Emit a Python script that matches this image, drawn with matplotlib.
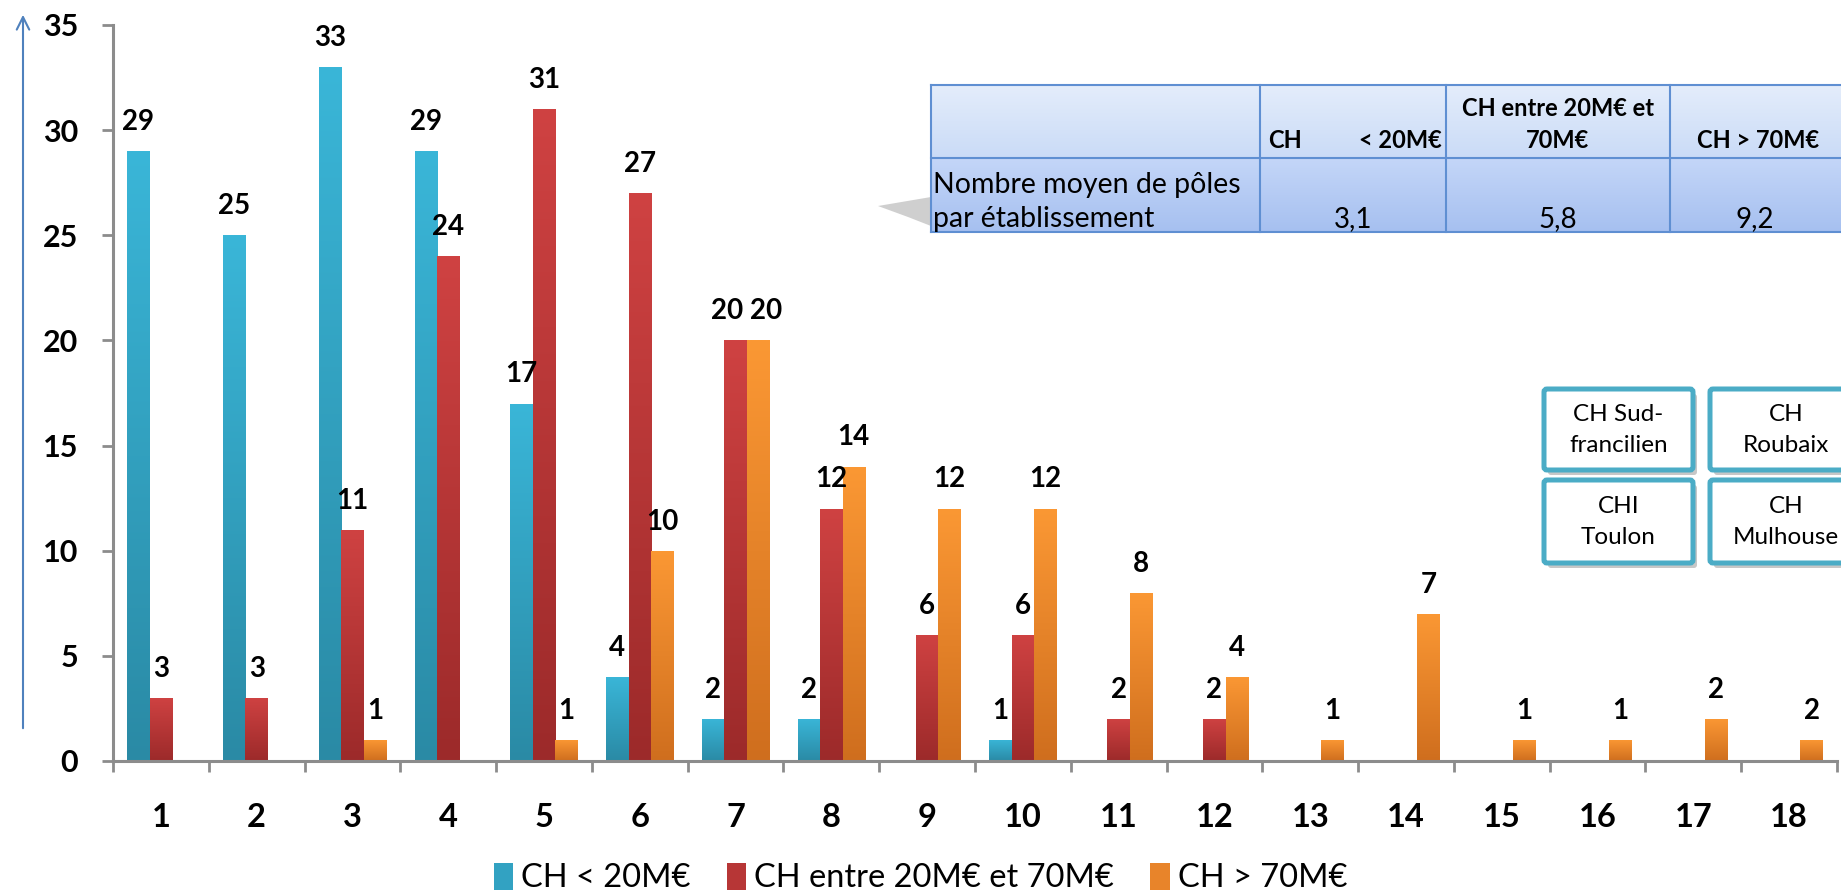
import numpy as np
import matplotlib
matplotlib.use("Agg")
import matplotlib.pyplot as plt
from matplotlib.colors import LinearSegmentedColormap
from matplotlib.patches import Patch, FancyBboxPatch, Polygon

plt.rcParams['font.family'] = ['Lato', 'DejaVu Sans']

# ---------------- data ----------------
categories = [str(i) for i in range(1, 19)]
series_names = ["CH < 20M\u20ac", "CH entre 20M\u20ac et 70M\u20ac", "CH > 70M\u20ac"]
small = [29, 25, 33, 29, 17, 4, 2, 2, 0, 1, 0, 0, 0, 0, 0, 0, 0, 0]
medium = [3, 3, 11, 24, 31, 27, 20, 12, 6, 6, 2, 2, 0, 0, 0, 0, 0, 0]
large = [0, 0, 1, 0, 1, 10, 20, 14, 12, 12, 8, 4, 1, 7, 1, 1, 2, 1]
large_labels = ["", "", "1", "", "1", "10", "20", "14", "12", "12", "8", "4", "1", "7", "1", "1", "2", "2"]
yticks = [0, 5, 10, 15, 20, 25, 30, 35]

table_cols = ["CH        < 20M\u20ac", "CH entre 20M\u20ac et\n70M\u20ac", "CH > 70M\u20ac"]
table_row_label = "Nombre moyen de p\u00f4les\npar \u00e9tablissement"
table_values = ["3,1", "5,8", "9,2"]
box_labels = [["CH Sud-\nfrancilien", "CH\nRoubaix"], ["CHI\nToulon", "CH\nMulhouse"]]

# ---------------- style ----------------
W, H = 1841, 893
fig = plt.figure(figsize=(W / 100, H / 100), dpi=100)
ax = fig.add_axes([113 / W, 1 - 761 / H, (1837 - 113) / W, (761 - 25) / H])

colors_top = ["#3AB6D8", "#CF4242", "#FB9834"]
colors_bot = ["#2A8AA5", "#9C2A2A", "#CF6E1E"]
colors_mid = ["#32A2C2", "#B73636", "#E8842A"]
grad = np.linspace(0, 1, 256).reshape(-1, 1)

x = np.arange(1, len(categories) + 1)
bw = 0.234
offsets = [-bw, 0, bw]
all_series = [small, medium, large]
all_labels = [[str(v) if v else "" for v in small],
              [str(v) if v else "" for v in medium],
              large_labels]

for s, (vals, labs) in enumerate(zip(all_series, all_labels)):
    cmap = LinearSegmentedColormap.from_list(f"g{s}", [colors_bot[s], colors_top[s]])
    bars = ax.bar(x + offsets[s], vals, bw, color=colors_mid[s], edgecolor='none', zorder=2)
    for i, (b, v, lab) in enumerate(zip(bars, vals, labs)):
        if v <= 0:
            continue
        x0 = b.get_x()
        im = ax.imshow(grad, extent=[x0, x0 + bw, 0, v], origin='lower', aspect='auto',
                       cmap=cmap, zorder=3)
        im.set_clip_path(b)
        if lab:
            dx = 0
            if s > 0 and all_labels[s - 1][i] and abs(all_series[s - 1][i] - v) < 2:
                dx = 6
            if s < 2 and all_labels[s + 1][i] and abs(all_series[s + 1][i] - v) < 2:
                dx = -6
            ax.annotate(lab, (x0 + bw / 2, v), xytext=(dx, 21), textcoords='offset points',
                        ha='center', va='center', fontsize=20, fontweight='bold', color='black',
                        zorder=5, annotation_clip=False)

ax.set_xlim(0.5, len(categories) + 0.5)
ax.set_ylim(0, 35)
ax.set_yticks(yticks)
ax.set_yticklabels([str(t) for t in yticks], fontsize=22, fontweight='bold')
ax.set_xticks(x)
ax.set_xticklabels(categories, fontsize=23.5, fontweight='bold')
ax.set_xticks(np.arange(0.5, len(categories) + 1, 1), minor=True)
ax.tick_params(axis='x', which='major', length=0, pad=30)
ax.tick_params(axis='x', which='minor', length=8, width=2, color='#8C8C8C', direction='out')
ax.tick_params(axis='y', which='major', length=8, width=2, color='#8C8C8C', pad=17, direction='out')
for sp in ['top', 'right']:
    ax.spines[sp].set_visible(False)
for sp in ['left', 'bottom']:
    ax.spines[sp].set_color('#8C8C8C')
    ax.spines[sp].set_linewidth(2.2)
ax.spines['bottom'].set_zorder(4)

handles = [Patch(facecolor=c, edgecolor='none') for c in colors_mid]
fig.legend(handles, series_names, loc='center', bbox_to_anchor=(0.5, 15 / H), ncol=3,
           frameon=False, fontsize=23.5, handlelength=0.6, handleheight=0.9, handletextpad=0.25,
           columnspacing=1.1)

# ---------------- overlay (pixel coordinates) ----------------
ov = fig.add_axes([0, 0, 1, 1], zorder=10)
ov.set_xlim(0, W)
ov.set_ylim(H, 0)
ov.axis('off')
ov.patch.set_alpha(0)

# y-axis arrow at far left
ov.annotate("", xy=(23, 12), xytext=(23, 731),
            arrowprops=dict(arrowstyle='->,head_length=0.9,head_width=0.45', color='#4F81BD', lw=1.5))

# table
tx = [931, 1260, 1446, 1670, 1860]
ty = [85, 158, 232]
ov.add_patch(Polygon([(878, 206), (931, 197), (931, 226), (908, 217)], closed=True,
                     facecolor='#A8A8A8', edgecolor='none', alpha=0.55))
hdr = LinearSegmentedColormap.from_list("hdr", ["#E4EDFB", "#CADBF7"])
row = LinearSegmentedColormap.from_list("row", ["#C4D6F8", "#A6C0F0"])
ov.imshow(grad, extent=[tx[0], tx[-1], ty[1], ty[0]], origin='upper', aspect='auto', cmap=hdr, zorder=1)
ov.imshow(grad, extent=[tx[0], tx[-1], ty[2], ty[1]], origin='upper', aspect='auto', cmap=row, zorder=1)
lc = '#5F8FD2'
for yy in ty:
    ov.plot([tx[0], tx[-1]], [yy, yy], color=lc, lw=1.5, zorder=2)
for xx in tx[:-1]:
    ov.plot([xx, xx], [ty[0], ty[2]], color=lc, lw=1.5, zorder=2)

hf = 17
ov.text(1268, 141, "CH", ha='left', va='center', fontsize=hf, fontweight='bold', zorder=3)
ov.text(1442, 141, "< 20M\u20ac", ha='right', va='center', fontsize=hf, fontweight='bold', zorder=3)
ov.text((tx[2] + tx[3]) / 2, 108, table_cols[1].split("\n")[0], ha='center', va='center',
        fontsize=hf, fontweight='bold', zorder=3)
ov.text((tx[2] + tx[3]) / 2, 141, table_cols[1].split("\n")[1], ha='center', va='center',
        fontsize=hf, fontweight='bold', zorder=3)
ov.text(1758, 141, table_cols[2], ha='center', va='center', fontsize=hf, fontweight='bold', zorder=3)
rl = table_row_label.split("\n")
ov.text(933, 185, rl[0], ha='left', va='center', fontsize=20.5, zorder=3)
ov.text(933, 219, rl[1], ha='left', va='center', fontsize=20.5, zorder=3)
for cx, val in zip([1353, 1558, 1755], table_values):
    ov.text(cx, 219, val, ha='center', va='center', fontsize=20, zorder=3)

# boxes
bx = [(1544, 1693), (1710, 1860)]
by = [(389, 470), (480, 563)]
for r in range(2):
    for c in range(2):
        x0, x1 = bx[c]
        y0, y1 = by[r]
        ov.add_patch(FancyBboxPatch((x0 + 4, y0 + 5), x1 - x0, y1 - y0,
                                    boxstyle='round,pad=0,rounding_size=3',
                                    facecolor='#9A9A9A', edgecolor='none', alpha=0.55, zorder=4))
        ov.add_patch(FancyBboxPatch((x0, y0), x1 - x0, y1 - y0,
                                    boxstyle='round,pad=0,rounding_size=3',
                                    facecolor='white', edgecolor='#4BACC6', lw=3.6, zorder=5))
        lines = box_labels[r][c].split("\n")
        cxx = (x0 + x1) / 2 if c == 0 else 1786
        ov.text(cxx, (y0 + y1) / 2 - 15, lines[0], ha='center', va='center', fontsize=17.5, zorder=6)
        ov.text(cxx, (y0 + y1) / 2 + 16, lines[1], ha='center', va='center', fontsize=17.5, zorder=6)

ov.set_xlim(0, W)
ov.set_ylim(H, 0)

fig.savefig("out.png", dpi=100)
